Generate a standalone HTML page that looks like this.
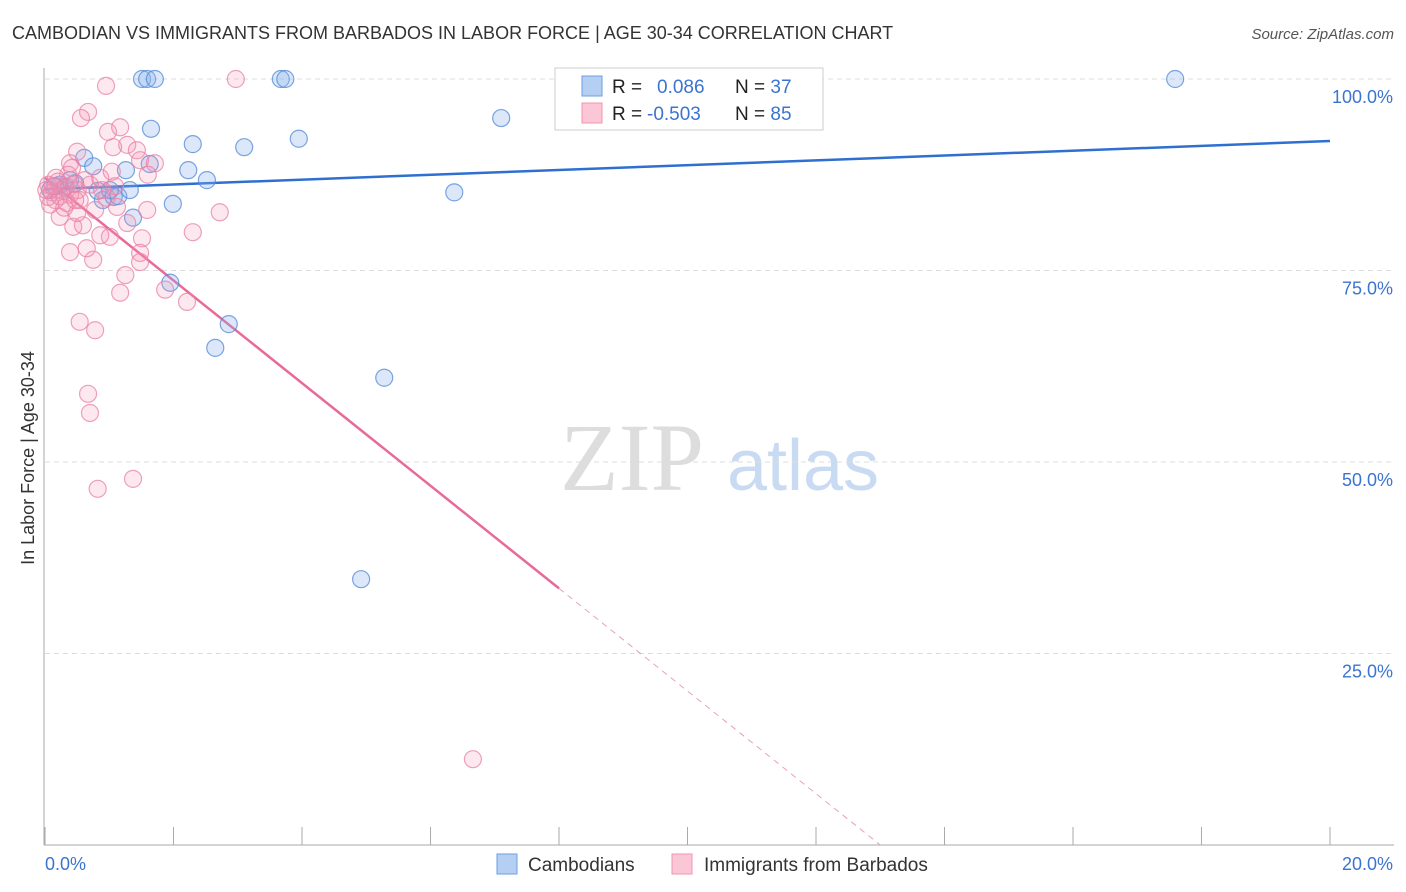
<!DOCTYPE html>
<html><head><meta charset="utf-8"><style>
body{margin:0;background:#fff;font-family:"Liberation Sans",sans-serif;}
svg{display:block}
</style></head><body>
<svg id="chart" width="1406" height="892">
<text x="12" y="39" font-size="18" fill="#333">CAMBODIAN VS IMMIGRANTS FROM BARBADOS IN LABOR FORCE | AGE 30-34 CORRELATION CHART</text>
<text x="1394" y="39" font-size="15" fill="#555" font-style="italic" text-anchor="end">Source: ZipAtlas.com</text>
<text x="34" y="458" font-size="18" fill="#333" text-anchor="middle" transform="rotate(-90 34 458)">In Labor Force | Age 30-34</text>
<g><text x="632" y="490" font-size="96" fill="#ddd" font-family="Liberation Serif,serif" text-anchor="middle">ZIP</text><text x="803" y="490" font-size="72" fill="#c9dbf2" text-anchor="middle">atlas</text></g>
<g id="grid"></g><g id="axes"></g><g id="lines"></g><g id="pts"></g>
<g>
<rect x="555" y="68" width="268" height="62" fill="#fff" stroke="#ccc"/>
<rect x="582" y="76" width="20" height="20" fill="#b5cff3" stroke="#6d9ee0"/>
<rect x="582" y="103" width="20" height="20" fill="#fbc6d6" stroke="#ef95b2"/>
<text x="612" y="93" font-size="19" fill="#222">R = <tspan x="657" fill="#3b74d0">0.086</tspan><tspan x="735" fill="#222">N = </tspan><tspan fill="#3b74d0">37</tspan></text>
<text x="612" y="120" font-size="19" fill="#222">R = <tspan x="647" fill="#3b74d0">-0.503</tspan><tspan x="735" fill="#222">N = </tspan><tspan fill="#3b74d0">85</tspan></text>
</g>
<g>
<rect x="497" y="854" width="20" height="20" fill="#b5cff3" stroke="#6d9ee0"/>
<text x="528" y="871" font-size="19" fill="#333">Cambodians</text>
<rect x="672" y="854" width="20" height="20" fill="#fbc6d6" stroke="#ef95b2"/>
<text x="704" y="871" font-size="19" fill="#333">Immigrants from Barbados</text>
</g>
</svg>
<script>
const yTicks=[100,75,50,25];
const yTickLabels=["100.0%","75.0%","50.0%","25.0%"];
const xTicks=[0,2,4,6,8,10,12,14,16,18,20];
const blueX=[1.51,1.59,1.71,3.67,3.74,17.59,8.65,7.10,1.65,2.30,3.10,3.95,0.61,0.75,1.26,1.63,2.23,2.52,6.37,1.99,0.90,1.07,1.37,0.82,1.14,0.23,0.39,0.08,1.95,2.86,2.65,5.28,4.92,0.16,0.31,0.47,1.01,1.32];
const blueY=[100,100,100,100,100,100,100,94.9,93.5,91.5,91.1,92.2,89.7,88.6,88.1,88.9,88.1,86.8,85.2,83.7,84.2,84.6,81.9,85.4,84.7,86.2,86.8,85.5,73.4,68.0,64.9,61.0,34.7,86.0,85.8,86.4,85.5,85.5];
const pinkX=[2.97,0.95,0.67,0.56,0.98,1.17,1.06,1.28,1.43,1.48,1.71,1.60,0.50,0.39,1.59,2.72,2.30,1.51,1.28,1.48,1.48,1.25,1.17,1.87,2.21,0.39,0.75,0.65,1.01,0.86,0.44,0.23,0.59,0.50,0.34,0.96,1.12,0.54,0.78,0.67,0.70,0.82,1.37,6.66,0.05,0.11,0.16,0.2,0.26,0.33,0.39,0.45,0.51,0.08,0.05,0.23,0.62,0.7,0.86,1.09,0.89,0.36,0.17,0.3,0.54,0.78,0.42,1.04,0.47,0.02,0.12];
const pinkY=[100,99.1,95.7,94.9,93.1,93.7,91.1,91.4,90.7,89.4,89.0,87.5,90.5,89.0,82.9,82.6,80.0,79.2,81.2,77.3,76.1,74.4,72.1,72.5,70.9,77.4,76.4,77.9,79.4,79.6,80.7,82.0,80.9,82.5,83.8,84.5,83.3,68.3,67.2,58.9,56.4,46.5,47.8,11.2,86.2,85.2,84.2,86.6,85.5,86.0,84.9,86.3,85.5,83.6,84.6,84.7,86.8,86.2,87.1,86.0,85.5,87.5,87.1,83.2,84.2,82.9,88.4,87.9,84.2,85.5,86.0];
const blueTrend=[85.6,91.9];
const pinkTrend=[87.1,0];
const pinkSolidEnd=8;
const NS="http://www.w3.org/2000/svg";
const X=v=>45+v*64.25, Y=v=>845-v*7.66;
function mk(t,a,p){const e=document.createElementNS(NS,t);for(const k in a)e.setAttribute(k,a[k]);p.appendChild(e);return e;}
const grid=document.getElementById('grid'),axes=document.getElementById('axes'),lines=document.getElementById('lines'),pts=document.getElementById('pts');
yTicks.forEach((t,i)=>{
 const l=mk('line',{x1:45,x2:1394,y1:Y(t),y2:Y(t),stroke:'#ddd','stroke-dasharray':'5,4'},grid);
 
 
 const tx=mk('text',{x:1393,y:Y(t)+24,'font-size':18,fill:'#3b74d0','text-anchor':'end'},axes);
 tx.textContent=yTickLabels[i];
 
 
});
const ya=mk('line',{x1:44,x2:44,y1:68,y2:845,stroke:'#aaa'},axes);


const xa=mk('line',{x1:44,x2:1394,y1:845,y2:845,stroke:'#aaa'},axes);


xTicks.forEach(t=>{const l=mk('line',{x1:X(t),x2:X(t),y1:827,y2:845,stroke:'#aaa'},axes);
 
 });
const xl0=mk('text',{x:45,y:870,'font-size':18,fill:'#3b74d0'},axes);xl0.textContent='0.0%';


const xl1=mk('text',{x:1393,y:870,'font-size':18,fill:'#3b74d0','text-anchor':'end'},axes);xl1.textContent='20.0%';


blueX.forEach((x,i)=>{const c=mk('circle',{cx:X(x),cy:Y(blueY[i]),r:8.5,fill:'rgba(140,180,235,0.3)',stroke:'rgba(80,135,215,0.75)','stroke-width':1.2},pts);
 
 });
pinkX.forEach((x,i)=>{const c=mk('circle',{cx:X(x),cy:Y(pinkY[i]),r:8.5,fill:'rgba(245,150,180,0.22)',stroke:'rgba(232,130,165,0.75)','stroke-width':1.2},pts);
 
 });
const bl=mk('line',{x1:X(0),y1:Y(blueTrend[0]),x2:X(20),y2:Y(blueTrend[1]),stroke:'#2f6fd0','stroke-width':2.5},lines);


const pAt=x=>pinkTrend[0]+(pinkTrend[1]-pinkTrend[0])*x/13;
const pl=mk('line',{x1:X(0),y1:Y(pinkTrend[0]),x2:X(pinkSolidEnd),y2:Y(pAt(pinkSolidEnd)),stroke:'#e8699a','stroke-width':2.5},lines);


const pd=mk('line',{x1:X(pinkSolidEnd),y1:Y(pAt(pinkSolidEnd)),x2:X(13),y2:Y(pAt(13)),stroke:'#e8a0bb','stroke-width':1,'stroke-dasharray':'6,5'},lines);


</script>
</body></html>
